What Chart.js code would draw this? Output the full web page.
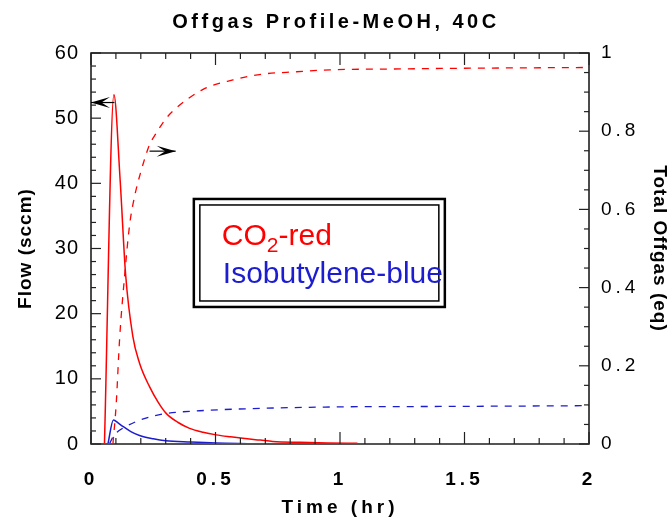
<!DOCTYPE html>
<html>
<head>
<meta charset="utf-8">
<script src="https://cdn.jsdelivr.net/npm/chart.js@4.4.1/dist/chart.umd.min.js"></script>
<style>
  html, body { margin: 0; padding: 0; background: #fff; }
</style>
</head>
<body>
<canvas id="out" width="672" height="520"></canvas>
<script>
// values (time in hr)
const co2Time = [0.054, 0.092, 0.117, 0.139, 0.168, 0.195, 0.235, 0.27, 0.302, 0.35, 0.396, 0.45, 0.503, 0.56, 0.61, 0.68, 0.73, 0.84, 0.95, 1.07];
const co2Flow = [0, 53.6, 40.5, 26, 16.5, 12.4, 8.8, 6.4, 4.7, 3.3, 2.4, 1.8, 1.4, 1.1, 0.87, 0.6, 0.4, 0.25, 0.15, 0.1];

const isoTime = [0.068, 0.09, 0.11, 0.128, 0.16, 0.195, 0.25, 0.3, 0.4, 0.5, 0.64];
const isoFlow = [0, 3.7, 3.2, 2.7, 1.9, 1.3, 0.8, 0.5, 0.3, 0.15, 0.05];

const co2TotTime = [0.088, 0.101, 0.115, 0.135, 0.155, 0.175, 0.2, 0.235, 0.262, 0.302, 0.342, 0.45, 0.57, 0.69, 0.825, 0.96, 1.2, 1.495, 2.0];
const co2Total = [0, 0.1, 0.27, 0.43, 0.56, 0.633, 0.696, 0.765, 0.795, 0.833, 0.859, 0.907, 0.931, 0.946, 0.952, 0.957, 0.959, 0.961, 0.963];

const isoTotTime = [0.074, 0.09, 0.11, 0.135, 0.18, 0.24, 0.3, 0.436, 0.62, 1.0, 1.4, 2.0];
const isoTotal = [0, 0.02, 0.033, 0.043, 0.057, 0.07, 0.078, 0.085, 0.09, 0.095, 0.096, 0.098];

const timeTicks = [0, 0.5, 1, 1.5, 2];
const flowTicks = [0, 10, 20, 30, 40, 50, 60];
const totalTicks = [0, 0.2, 0.4, 0.6, 0.8, 1];

const RED = "#ff0000";
const BLUE = "#1c1cd0";
const FONT = "'Liberation Sans', Arial, Helvetica, sans-serif";

Chart.defaults.font.family = FONT;
Chart.defaults.color = "#000";

function pts(xs, ys) {
    return xs.map((x, i) => ({ x: x, y: ys[i] }));
}

function fixedTicks(list) {
    return function(scale) {
        scale.ticks = list.map(v => ({ value: v }));
    };
}

// the old plotting program spread its letters out, copy that
function spaceOut(box, method, px) {
    if (!box || !box[method] || box["_sp_" + method]) return;
    const base = box[method];
    box[method] = function() {
        const c = this.ctx;
        c.save();
        c.letterSpacing = px;
        base.apply(this, arguments);
        c.restore();
    };
    box["_sp_" + method] = true;
}

const spacing = {
    id: "spacing",
    beforeLayout(chart) {
        const s = chart.scales;
        spaceOut(s.x, "drawLabels", "4px");
        spaceOut(s.x, "drawTitle", "4px");
        spaceOut(s.y, "drawLabels", "1px");
        spaceOut(s.y, "drawTitle", "1px");
        spaceOut(s.y1, "drawLabels", "4px");
        spaceOut(s.y1, "drawTitle", "1px");
        spaceOut(chart.titleBlock, "draw", "3.5px");
    }
};

// box round the plot with ticks pointing inwards
const frame = {
    id: "frame",
    afterDatasetsDraw(chart) {
        const { ctx, chartArea: a, scales } = chart;
        const line = (x1, y1, x2, y2) => {
            ctx.beginPath();
            ctx.moveTo(x1, y1);
            ctx.lineTo(x2, y2);
            ctx.stroke();
        };
        ctx.save();
        ctx.strokeStyle = "#111";
        ctx.lineWidth = 1.5;
        ctx.strokeRect(a.left, a.top, a.right - a.left, a.bottom - a.top);
        ctx.strokeStyle = "#555";
        ctx.lineWidth = 2;
        line(a.left, a.bottom, a.right, a.bottom);
        ctx.strokeStyle = "#222";
        ctx.lineWidth = 1.2;
        for (let i = 0; i <= 20; i++) {
            const px = scales.x.getPixelForValue(i * 0.1);
            const len = i % 5 === 0 ? 12 : 6;
            line(px, a.bottom, px, a.bottom - len);
            line(px, a.top, px, a.top + len);
        }
        for (let i = 0; i <= 30; i++) {
            const py = scales.y.getPixelForValue(i * 2);
            line(a.left, py, a.left + (i % 5 === 0 ? 10 : 5), py);
        }
        for (let i = 0; i <= 20; i++) {
            const py = scales.y1.getPixelForValue(i * 0.05);
            line(a.right, py, a.right - (i % 4 === 0 ? 10 : 5), py);
        }
        ctx.restore();
    }
};

// arrows telling which axis a curve belongs to
const arrows = [
    { axis: "y", from: [0.094, 52.4], to: [0, 52.4] },
    { axis: "y1", from: [0.235, 0.749], to: [0.34, 0.749] }
];

const arrowPlugin = {
    id: "arrows",
    afterDatasetsDraw(chart) {
        const { ctx, scales } = chart;
        ctx.save();
        ctx.strokeStyle = "#000";
        ctx.fillStyle = "#000";
        ctx.lineWidth = 1.2;
        for (const ar of arrows) {
            const x1 = scales.x.getPixelForValue(ar.from[0]);
            const y1 = scales[ar.axis].getPixelForValue(ar.from[1]);
            const x2 = scales.x.getPixelForValue(ar.to[0]);
            const y2 = scales[ar.axis].getPixelForValue(ar.to[1]);
            const ang = Math.atan2(y2 - y1, x2 - x1);
            const L = 19, W = 5.5;
            ctx.beginPath();
            ctx.moveTo(x1, y1);
            ctx.lineTo(x2, y2);
            ctx.stroke();
            ctx.save();
            ctx.translate(x2, y2);
            ctx.rotate(ang);
            ctx.beginPath();
            ctx.moveTo(0, 0);
            ctx.lineTo(-L, -W);
            ctx.lineTo(-L * 0.55, 0);
            ctx.lineTo(-L, W);
            ctx.closePath();
            ctx.fill();
            ctx.restore();
        }
        ctx.restore();
    }
};

// double framed label box
const legendAt = [0.413, 37.6];

const legendBox = {
    id: "legendBox",
    afterDatasetsDraw(chart) {
        const { ctx, scales } = chart;
        const x0 = scales.x.getPixelForValue(legendAt[0]);
        const y0 = scales.y.getPixelForValue(legendAt[1]);
        const w = 251, h = 108;
        ctx.save();
        ctx.fillStyle = "#fff";
        ctx.fillRect(x0, y0, w, h);
        ctx.strokeStyle = "#000";
        ctx.lineWidth = 2.5;
        ctx.strokeRect(x0, y0, w, h);
        ctx.lineWidth = 1.5;
        ctx.strokeRect(x0 + 6, y0 + 6, w - 12, h - 12);
        ctx.textBaseline = "alphabetic";
        ctx.textAlign = "left";
        let tx = x0 + 28;
        ctx.fillStyle = RED;
        ctx.font = "30px " + FONT;
        ctx.fillText("CO", tx, y0 + 46);
        tx += ctx.measureText("CO").width;
        ctx.font = "21px " + FONT;
        ctx.fillText("2", tx, y0 + 53);
        tx += ctx.measureText("2").width;
        ctx.font = "30px " + FONT;
        ctx.fillText("-red", tx, y0 + 46);
        ctx.fillStyle = BLUE;
        ctx.fillText("Isobutylene-blue", x0 + 29, y0 + 84);
        ctx.restore();
    }
};

const chartConfig = {
    type: "line",
    data: {
        datasets: [
            {
                label: "CO2 flow",
                data: pts(co2Time, co2Flow),
                yAxisID: "y",
                borderColor: RED,
                borderWidth: 1.5,
                pointRadius: 0,
                cubicInterpolationMode: "monotone"
            },
            {
                label: "Isobutylene flow",
                data: pts(isoTime, isoFlow),
                yAxisID: "y",
                borderColor: BLUE,
                borderWidth: 1.5,
                pointRadius: 0,
                cubicInterpolationMode: "monotone"
            },
            {
                label: "CO2 total",
                data: pts(co2TotTime, co2Total),
                yAxisID: "y1",
                borderColor: RED,
                borderWidth: 1.3,
                borderDash: [7, 7],
                pointRadius: 0,
                cubicInterpolationMode: "monotone"
            },
            {
                label: "Isobutylene total",
                data: pts(isoTotTime, isoTotal),
                yAxisID: "y1",
                borderColor: BLUE,
                borderWidth: 1.3,
                borderDash: [7, 7],
                pointRadius: 0,
                cubicInterpolationMode: "monotone"
            }
        ]
    },
    options: {
        responsive: false,
        animation: false,
        devicePixelRatio: 1,
        layout: { padding: 0 },
        plugins: {
            legend: { display: false },
            tooltip: { enabled: false },
            title: {
                display: true,
                text: "Offgas Profile-MeOH, 40C",
                font: { size: 20, weight: "bold", lineHeight: 1.2 },
                color: "#000",
                padding: { top: 10, bottom: 19 }
            }
        },
        scales: {
            x: {
                type: "linear",
                min: 0,
                max: 2,
                afterBuildTicks: fixedTicks(timeTicks),
                afterFit: s => { s.height = 76; },
                grid: { display: false, drawTicks: false },
                border: { display: false },
                ticks: {
                    padding: 24,
                    maxRotation: 0,
                    font: { size: 19, weight: "bold" },
                    callback: v => String(v)
                },
                title: {
                    display: true,
                    text: "Time (hr)",
                    font: { size: 19, weight: "bold" },
                    padding: { top: 0, bottom: 1 }
                }
            },
            y: {
                type: "linear",
                position: "left",
                min: 0,
                max: 60,
                afterBuildTicks: fixedTicks(flowTicks),
                afterFit: s => { s.width = 91; },
                grid: { display: false, drawTicks: false },
                border: { display: false },
                ticks: {
                    padding: 12,
                    font: { size: 20 },
                    callback: v => String(v)
                },
                title: {
                    display: true,
                    text: "Flow (sccm)",
                    font: { size: 19, weight: "bold" },
                    padding: { top: 14, bottom: 0 }
                }
            },
            y1: {
                type: "linear",
                position: "right",
                min: 0,
                max: 1,
                afterBuildTicks: fixedTicks(totalTicks),
                afterFit: s => { s.width = 83; },
                grid: { display: false, drawTicks: false },
                border: { display: false },
                ticks: {
                    padding: 12,
                    font: { size: 19 },
                    callback: v => String(v)
                },
                title: {
                    display: true,
                    text: "Total Offgas (eq)",
                    font: { size: 19, weight: "bold" },
                    padding: { top: 1, bottom: 0 }
                }
            }
        }
    },
    plugins: [spacing, frame, arrowPlugin, legendBox]
};

const canvasCtx = document.getElementById("out").getContext("2d");
window.chart = new Chart(canvasCtx, chartConfig);
</script>
</body>
</html>
